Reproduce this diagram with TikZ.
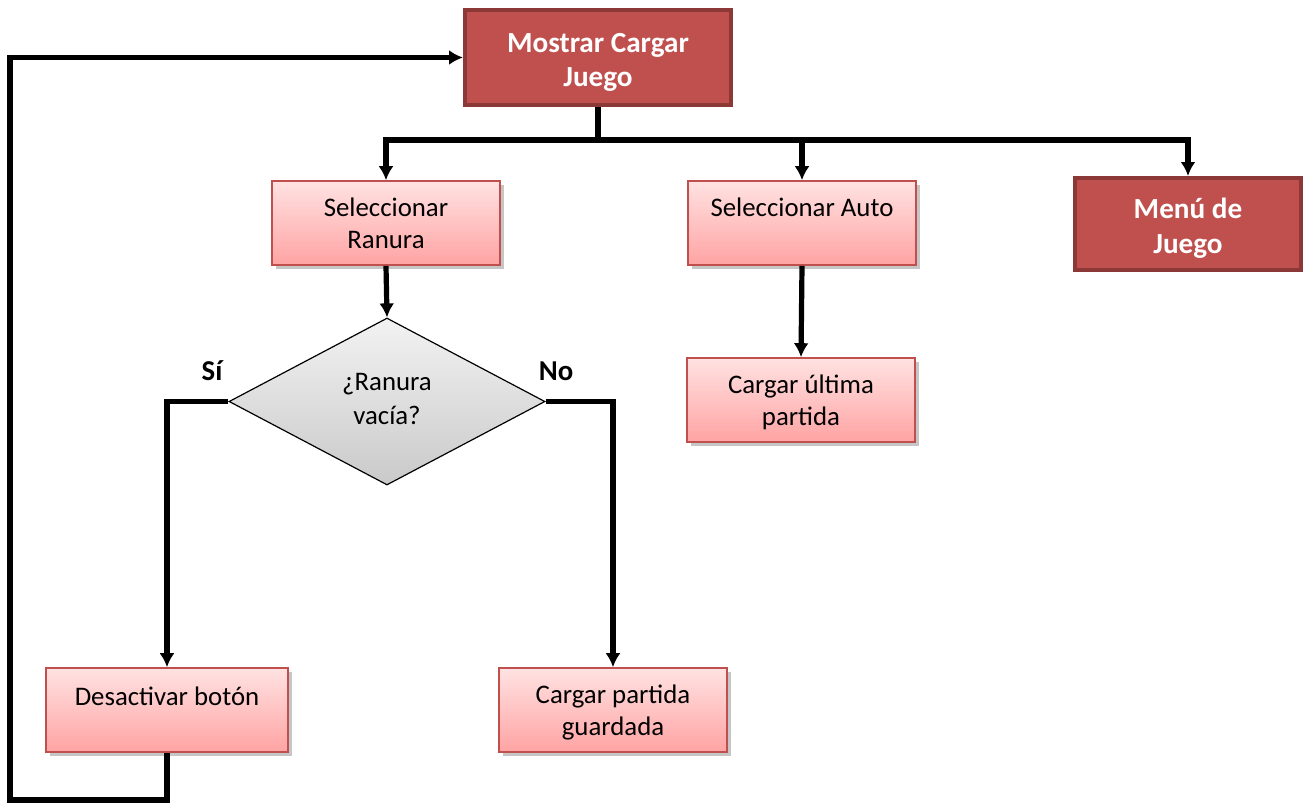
\documentclass[tikz,border=0pt]{standalone}
\usepackage{fontspec}
\setmainfont{Carlito}
\usepackage{tikz}
\usetikzlibrary{calc,arrows.meta,shapes.geometric,shadows}

\definecolor{rojo}{HTML}{C0504D}
\definecolor{rojoborde}{HTML}{8C3836}
\definecolor{rosaclaro}{HTML}{FFE2E2}
\definecolor{rosa}{HTML}{FFA3A3}

\tikzset{
  oscuro/.style={rectangle,draw=rojoborde,fill=rojo,line width=2pt,text=white,
    font=\fontsize{14.6}{17.2}\selectfont\bfseries,align=center,inner sep=2pt,
    text height=29pt,text depth=0pt},
  claro/.style={rectangle,draw=rojo,line width=0.8pt,top color=rosaclaro,bottom color=rosa,
    font=\fontsize{13.4}{16}\selectfont,align=center,minimum width=114pt,minimum height=42pt,
    inner sep=2pt,drop shadow={shadow xshift=2pt,shadow yshift=-2pt,opacity=0.45,fill=gray},
    text height=25.4pt,text depth=0pt},
  pregunta/.style={diamond,draw=black,line width=0.6pt,top color=gray!10,bottom color=gray!42,
    font=\fontsize{13.4}{17}\selectfont,align=center,minimum width=158pt,minimum height=83.5pt,
    inner sep=0pt,aspect=2,text depth=3pt},
  flecha/.style={line width=2.6pt,-{Latex[length=7pt,width=7.5pt]}},
  linea/.style={line width=2.6pt},
  etiqueta/.style={font=\fontsize{14.4}{17}\selectfont\bfseries}
}

\begin{document}
\begin{tikzpicture}[x=0.5pt,y=-0.5pt]
  \useasboundingbox (0,0) rectangle (1312,803);

  \node[oscuro,minimum width=133pt,minimum height=47.5pt](m)at(598,57.5){Mostrar Cargar\\Juego};
  \node[claro](r)at(386,223){Seleccionar\\Ranura};
  \node[claro](a)at(802,223){Seleccionar Auto\\[0pt]\mbox{}};
  \node[oscuro,minimum width=113pt,minimum height=46pt](j)at(1188,224){Men\'u de\\Juego};
  \node[pregunta](q)at(387,401.5){¿Ranura\\vacía?};
  \node[claro](u)at(801,400){Cargar última\\partida};
  \node[claro,minimum width=121pt](d)at(167,710){Desactivar botón\\[-1pt]\mbox{}};
  \node[claro](g)at(613,710){Cargar partida\\guardada};

  \node[etiqueta](si)at(212,371){Sí};
  \node[etiqueta](no)at(556,371){No};

  \coordinate (bus) at (598,140);
  \coordinate (esq) at (10,800);

  \draw[linea](m.south)--(bus);
  \draw[flecha](bus)-|(r.north);
  \draw[flecha](bus)-|(a.north);
  \draw[flecha](bus)-|(j.north);
  \draw[flecha](r.south)--(q.north);
  \draw[flecha](a.south)--(u.north);
  \draw[flecha](q.west)-|(d.north);
  \draw[flecha](q.east)-|(g.north);
  \draw[flecha](d.south)|-(esq)|-(m.west);
\end{tikzpicture}
\end{document}
